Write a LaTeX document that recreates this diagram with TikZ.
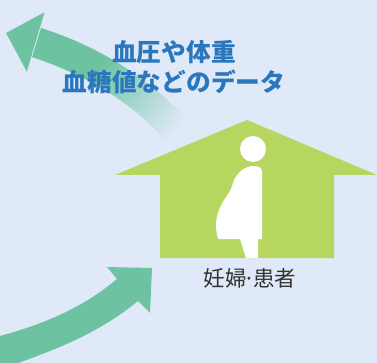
\documentclass[tikz,border=0pt]{standalone}
\usepackage{fontspec}
\usepackage{xcolor}
\usepackage{tikz}
\newfontfamily\cjk{Noto Sans CJK JP}
\definecolor{bgblue}{HTML}{DFE9F8}
\definecolor{arrowgreen}{HTML}{6DC3A1}
\definecolor{housegreen}{HTML}{B6D65F}
\definecolor{textblue}{HTML}{2A77BD}
\definecolor{labelgray}{HTML}{333333}
\tikzset{
  datalabel/.style={inner sep=0pt,text=textblue,font=\cjk\bfseries\fontsize{24.7}{30}\selectfont},
  houselabel/.style={inner sep=0pt,text=labelgray,font=\cjk\fontsize{21.5}{26}\selectfont},
  figure/.style={fill=white,draw=none}
}
\begin{document}
\begin{tikzpicture}[x=1pt,y=-1pt]
\useasboundingbox (0,0) rectangle (377,363);
%
\fill[bgblue] (0,0) rectangle (377,363);
%
% upper arrow, shaft fades out
\begin{scope}
\clip (41,28) .. controls (95,45) and (145,75) .. (185,117)
  -- (167,142) .. controls (130,100) and (85,75) .. (32,57) -- cycle;
\begin{scope}[transform canvas={shift={(98,68)},rotate=-38.5}]
\fill[arrowgreen] (-100,-100) rectangle (0.5,100);
\shade[left color=arrowgreen,right color=bgblue] (0,-100) rectangle (100,100);
\fill[bgblue] (99.5,-100) rectangle (150,100);
\end{scope}
\end{scope}
\fill[arrowgreen] (6,33) -- (45,12) -- (27,72) -- cycle;
\draw[bgblue,line width=0.5pt] (45,12) -- (27,72);
%
% lower arrow
\fill[arrowgreen] (0,336) .. controls (40,325) and (80,310) .. (117,279)
  -- (107,267) -- (152,268) -- (150,313) -- (138,301)
  .. controls (100,332) and (60,348) .. (18,363) -- (0,363) -- cycle;
%
% house
\fill[housegreen] (247,120) -- (377,175) -- (334,175) -- (334,258)
  -- (160,258) -- (160,175) -- (115,175) -- cycle;
%
% pregnant figure
\fill[figure] (253,149) circle (13);
\fill[figure] (262,239) -- (262,172) .. controls (262,168) and (259,166) .. (254,166)
  .. controls (245,166) and (238,172) .. (234,180)
  .. controls (232,186) and (231,190) .. (228,194)
  .. controls (221,204) and (216,214) .. (216,225)
  .. controls (216,231) and (217,235) .. (218,239)
  -- (240,239) -- (246,258) -- (258,258) -- (258,239) -- cycle;
%
\node[datalabel] (data1) at (174,52) {血圧や体重};
\node[datalabel] (data2) at (174,82) {血糖値などのデータ};
\node[houselabel] (patient) at (250,278) {妊婦\kern-3pt·\kern-3pt 患者};
%
\end{tikzpicture}
\end{document}
